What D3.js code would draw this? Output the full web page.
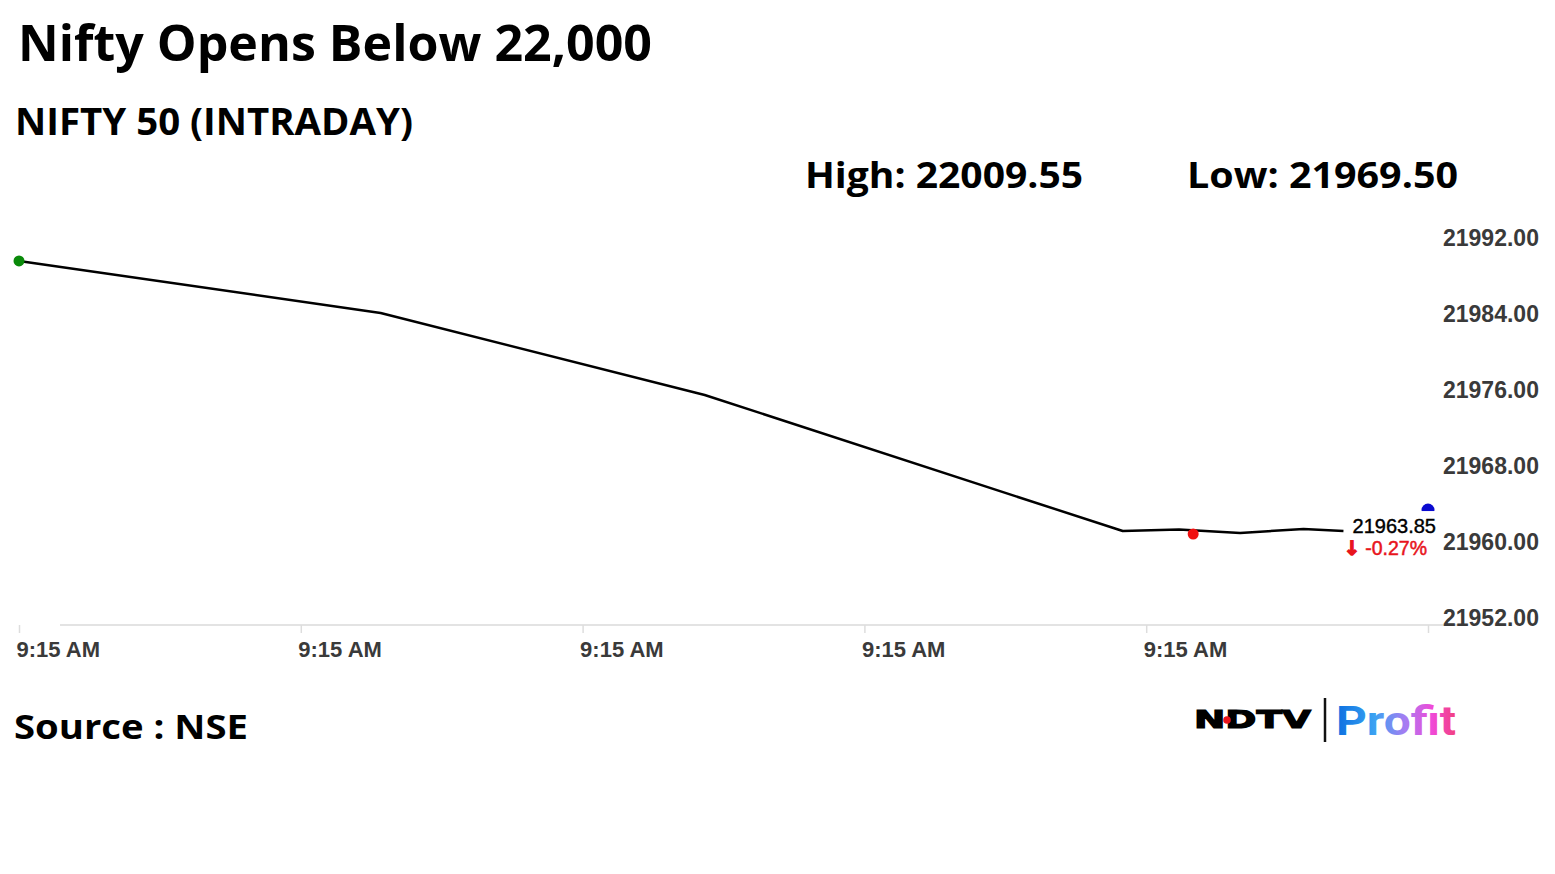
<html>
<head>
	<title>Nifty Opens Below 22,000</title>
	<style type="text/css">
		body{
			margin: 0;
			background-color: #fff;
		}
		svg{
			display: block;
			background-color: #fff;
		}
		.axis text{
			font-family: "Liberation Sans", Arial, sans-serif;
			font-weight: bold;
			font-size: 22px;
			fill: #3a3a3a;
		}
		.yaxis text{
			font-size: 23px;
		}
		.axis line{
			stroke: #ddd;
			stroke-width: 1.5px;
		}
		.head{
			font-family: "Open Sans", sans-serif;
			font-weight: 700;
			fill: #000;
		}
	</style>
	<script type="text/javascript" src="https://d3js.org/d3.v7.min.js"></script>
</head>
<body>
	<div id="chart"></div>

	<script type="text/javascript">
		// seconds after 9:15:00 and index level at that time
		var times  = [0, 15.4, 29.2, 47.0, 49.4, 52.0, 54.7, 56.4];
		var prices = [21990.32, 21984.84, 21976.21, 21961.89, 21962.05, 21961.68, 21962.11, 21961.89];

		var openPoint = {t: 0, v: 21990.32};      // green
		var lowPoint  = {t: 50.0, v: 21961.58};   // red
		var lastPoint = {t: 60, v: 21964.1};      // blue

		var yTicks = [21952, 21960, 21968, 21976, 21984, 21992];
		var xTicks = [0, 12, 24, 36, 48, 60];
		var xTickLabels = ['9:15 AM', '9:15 AM', '9:15 AM', '9:15 AM', '9:15 AM', ''];

		var title = 'Nifty Opens Below 22,000';
		var subtitle = 'NIFTY 50 (INTRADAY)';
		var highText = 'High: 22009.55';
		var lowText = 'Low: 21969.50';
		var lastText = '21963.85';
		var changeText = '-0.27%';
		var sourceText = 'Source : NSE';

		var width = 1555, height = 874;

		var svg = d3.select('#chart')
			.append('svg')
			.attr('width', width)
			.attr('height', height);

		// squeeze a text to the width it has in the picture
		function fit(sel, w){
			sel.attr('textLength', w).attr('lengthAdjust', 'spacingAndGlyphs');
			return sel;
		}

		fit(svg.append('text').attr('class', 'head')
			.attr('x', 18).attr('y', 61).style('font-size', '51px')
			.text(title), 634);

		fit(svg.append('text').attr('class', 'head')
			.attr('x', 15).attr('y', 135).style('font-size', '37px')
			.text(subtitle), 398);

		fit(svg.append('text').attr('class', 'head')
			.attr('x', 805).attr('y', 188).style('font-size', '35px')
			.text(highText), 278);

		fit(svg.append('text').attr('class', 'head')
			.attr('x', 1187).attr('y', 188).style('font-size', '35px')
			.text(lowText), 271);

		fit(svg.append('text').attr('class', 'head')
			.attr('x', 14).attr('y', 739).style('font-size', '34px')
			.text(sourceText), 234);

		var xScale = d3.scaleLinear()
			.domain([0, 60])
			.range([19, 1428]);
		var yScale = d3.scaleLinear()
			.domain([21952, 21992])
			.range([625, 245]);

		// baseline
		svg.append('line')
			.attr('x1', 60).attr('x2', 1468)
			.attr('y1', yScale(21952)).attr('y2', yScale(21952))
			.attr('stroke', '#e3e3e3')
			.attr('stroke-width', 2);

		var xAxis = d3.axisBottom(xScale)
			.tickValues(xTicks)
			.tickSize(8)
			.tickFormat(function(d, i){ return xTickLabels[i]; });

		var xAxisG = svg.append('g')
			.attr('class', 'axis')
			.attr('transform', 'translate(0,' + yScale(21952) + ')')
			.call(xAxis);
		xAxisG.select('.domain').remove();
		xAxisG.selectAll('text')
			.attr('text-anchor', 'start')
			.attr('x', -3)
			.attr('y', 32)
			.attr('dy', 0);

		var yAxis = d3.axisRight(yScale)
			.tickValues(yTicks)
			.tickSize(0)
			.tickFormat(d3.format('.2f'));

		var yAxisG = svg.append('g')
			.attr('class', 'axis yaxis')
			.attr('transform', 'translate(1443,0)')
			.call(yAxis);
		yAxisG.select('.domain').remove();
		yAxisG.selectAll('text')
			.attr('x', 0)
			.attr('dy', 0)
			.attr('y', -8)
			.attr('dominant-baseline', 'central');

		var line = d3.line()
			.x(function(d, i){ return xScale(times[i]); })
			.y(function(d){ return yScale(d); });

		svg.append('path')
			.datum(prices)
			.attr('d', line)
			.attr('fill', 'none')
			.attr('stroke', '#000')
			.attr('stroke-width', 2.5)
			.attr('stroke-linejoin', 'round');

		svg.append('circle')
			.attr('cx', xScale(openPoint.t)).attr('cy', yScale(openPoint.v))
			.attr('r', 5.5).attr('fill', '#0a8a0a');

		svg.append('circle')
			.attr('cx', xScale(lowPoint.t)).attr('cy', yScale(lowPoint.v))
			.attr('r', 5.5).attr('fill', '#f01010');

		svg.append('circle')
			.attr('cx', xScale(lastPoint.t)).attr('cy', yScale(lastPoint.v))
			.attr('r', 6.5).attr('fill', '#0a0ad0');

		// last value label, its white box covers half of the blue dot
		var lx = xScale(lastPoint.t), ly = yScale(lastPoint.v);
		svg.append('rect')
			.attr('x', lx - 82).attr('y', ly + 1)
			.attr('width', 94).attr('height', 48)
			.attr('fill', '#fff');

		svg.append('text')
			.attr('x', lx + 8).attr('y', ly + 23)
			.attr('text-anchor', 'end')
			.style('font-family', '"Liberation Sans", Arial, sans-serif')
			.style('font-size', '20px')
			.attr('fill', '#000')
			.attr('stroke', '#000')
			.attr('stroke-width', 0.4)
			.text(lastText);

		var chg = svg.append('text')
			.attr('x', lx - 1).attr('y', ly + 45)
			.attr('text-anchor', 'end')
			.style('font-family', '"Liberation Sans", Arial, sans-serif')
			.style('font-size', '19.5px')
			.attr('fill', '#e8141c')
			.attr('stroke', '#e8141c')
			.attr('stroke-width', 0.5);
		chg.append('tspan')
			.style('font-family', '"DejaVu Sans", sans-serif')
			.style('font-weight', 'bold')
			.attr('stroke-width', 1.4)
			.text('\u2193');
		chg.append('tspan').attr('dx', 5).text(changeText);

		// NDTV | Profit logo
		var grad = svg.append('defs').append('linearGradient')
			.attr('id', 'profitGrad')
			.attr('gradientUnits', 'userSpaceOnUse')
			.attr('x1', 1336).attr('x2', 1456).attr('y1', 0).attr('y2', 0);
		[['0%', '#0b6fe0'], ['32%', '#3aa2f2'], ['58%', '#a77cf2'], ['80%', '#f04ad8'], ['100%', '#f2407e']]
			.forEach(function(s){
				grad.append('stop').attr('offset', s[0]).attr('stop-color', s[1]);
			});

		fit(svg.append('text')
			.attr('x', 1194).attr('y', 728)
			.style('font-family', '"DejaVu Sans", sans-serif')
			.style('font-weight', 'bold')
			.style('font-size', '25px')
			.attr('fill', '#000')
			.attr('stroke', '#000')
			.attr('stroke-width', 1.2)
			.text('NDTV'), 117);

		svg.append('circle')
			.attr('cx', 1227).attr('cy', 720).attr('r', 3.8)
			.attr('fill', '#e8141c');

		svg.append('line')
			.attr('x1', 1325).attr('x2', 1325)
			.attr('y1', 698).attr('y2', 742)
			.attr('stroke', '#111')
			.attr('stroke-width', 2.5);

		fit(svg.append('text')
			.attr('x', 1336).attr('y', 735)
			.style('font-family', 'Roboto, sans-serif')
			.style('font-weight', '700')
			.style('font-size', '41px')
			.attr('fill', 'url(#profitGrad)')
			.text('Profit'), 120);
	</script>
</body>
</html>
